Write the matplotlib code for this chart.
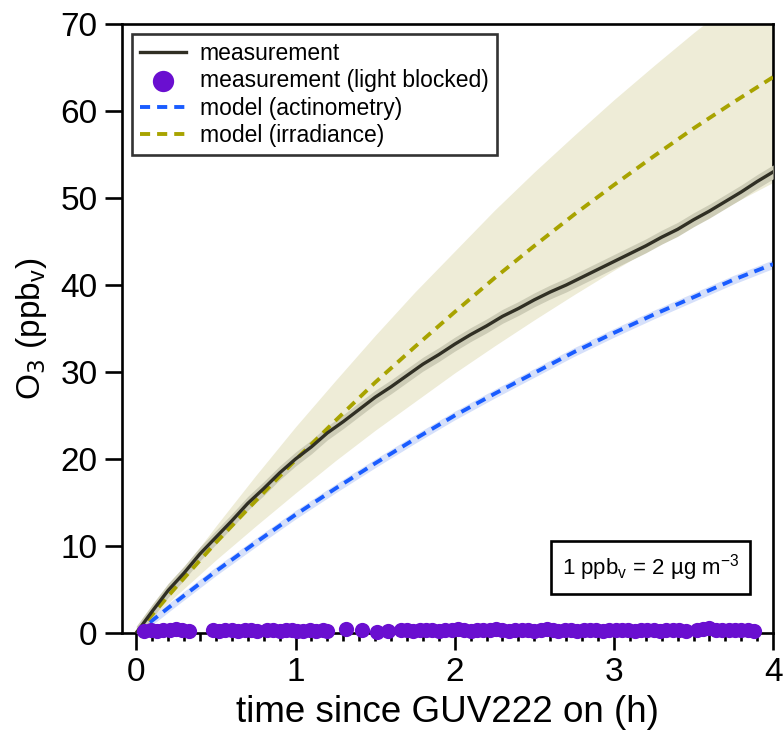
import matplotlib
matplotlib.use("Agg")
import matplotlib.pyplot as plt

plt.rcParams['font.family'] = ['Liberation Sans', 'DejaVu Sans']

# measurement (light on)
t_meas = [0.0, 0.1, 0.2, 0.3, 0.4, 0.5, 0.6, 0.7, 0.8, 0.9, 1.0,
          1.1, 1.2, 1.3, 1.4, 1.5, 1.6, 1.7, 1.8, 1.9, 2.0,
          2.1, 2.2, 2.3, 2.4, 2.5, 2.6, 2.7, 2.8, 2.9, 3.0,
          3.1, 3.2, 3.3, 3.4, 3.5, 3.6, 3.7, 3.8, 3.9, 4.0]
o3_meas = [0.0, 2.5, 4.9, 6.9, 9.1, 11.0, 12.9, 14.9, 16.6, 18.4, 20.0,
           21.4, 23.0, 24.3, 25.7, 27.1, 28.3, 29.6, 30.9, 32.0, 33.2,
           34.3, 35.3, 36.4, 37.3, 38.3, 39.2, 40.0, 40.9, 41.8, 42.7,
           43.6, 44.5, 45.5, 46.4, 47.5, 48.5, 49.6, 50.7, 51.9, 53.0]
meas_err = 0.8

# model curves
t_model = [0.0, 0.25, 0.5, 0.75, 1.0, 1.25, 1.5, 1.75, 2.0,
           2.25, 2.5, 2.75, 3.0, 3.25, 3.5, 3.75, 4.0]
o3_actino = [0.0, 3.6, 7.1, 10.4, 13.6, 16.6, 19.5, 22.3, 25.0,
             27.5, 29.9, 32.3, 34.5, 36.6, 38.6, 40.6, 42.4]
o3_irrad = [0.0, 5.3, 10.4, 15.2, 19.9, 24.4, 28.8, 32.9, 36.9,
            40.8, 44.5, 48.1, 51.5, 54.8, 58.0, 61.0, 63.9]
irrad_lo = [0.0, 4.3, 8.4, 12.3, 16.1, 19.8, 23.3, 26.6, 29.9,
            33.0, 36.0, 38.9, 41.7, 44.4, 46.9, 49.4, 51.8]
irrad_hi = [0.0, 6.3, 12.3, 18.1, 23.7, 29.0, 34.2, 39.2, 43.9,
            48.6, 53.0, 57.2, 61.3, 65.2, 69.0, 72.6, 76.0]
actino_err = 0.5

# measurement with light blocked
t_dark = [0.05, 0.09, 0.13, 0.17, 0.21, 0.25, 0.29, 0.33,
          0.48, 0.52, 0.56, 0.60, 0.64, 0.68, 0.72, 0.76,
          0.82, 0.86, 0.90, 0.94, 0.98, 1.01,
          1.05, 1.09, 1.13, 1.17, 1.20,
          1.32, 1.42, 1.51, 1.58,
          1.66, 1.70, 1.74, 1.78, 1.82, 1.86, 1.90, 1.94, 1.98, 2.02,
          2.06, 2.10, 2.14, 2.18, 2.22, 2.26, 2.30, 2.34, 2.38, 2.42,
          2.46, 2.50, 2.54, 2.58, 2.62,
          2.65, 2.69, 2.73, 2.77, 2.81, 2.85, 2.89, 2.93, 2.97, 3.01,
          3.05, 3.09, 3.13, 3.17, 3.21, 3.25, 3.29, 3.33, 3.37, 3.41, 3.45,
          3.52, 3.56, 3.60, 3.64, 3.68, 3.72, 3.76, 3.80, 3.84, 3.88]
o3_dark = [0.2, 0.3, 0.2, 0.3, 0.4, 0.5, 0.3, 0.2,
           0.3, 0.2, 0.4, 0.3, 0.2, 0.3, 0.4, 0.2,
           0.4, 0.3, 0.2, 0.4, 0.3, 0.2,
           0.2, 0.3, 0.2, 0.3, 0.2,
           0.5, 0.4, 0.1, 0.2,
           0.4, 0.3, 0.2, 0.3, 0.4, 0.3, 0.2, 0.3, 0.4, 0.5,
           0.3, 0.2, 0.3, 0.4, 0.3, 0.5, 0.3, 0.2, 0.3, 0.4,
           0.3, 0.2, 0.4, 0.5, 0.3,
           0.2, 0.3, 0.4, 0.2, 0.3, 0.4, 0.3, 0.2, 0.3, 0.4,
           0.3, 0.4, 0.2, 0.3, 0.3, 0.4, 0.2, 0.3, 0.4, 0.3, 0.2,
           0.4, 0.5, 0.6, 0.4, 0.3, 0.4, 0.3, 0.4, 0.3, 0.2]

olive = '#a8a300'
blue = '#1a5cff'
purple = '#6a0fd0'

fig = plt.figure(figsize=(7.83, 7.37), dpi=100)
ax = fig.add_axes([0.1558, 0.1411, 0.8316, 0.8263])

ax.fill_between(t_model, irrad_lo, irrad_hi, color='#eeecd7', lw=0, zorder=1)
ax.fill_between(t_model, [v - actino_err for v in o3_actino],
                [v + actino_err for v in o3_actino], color='#d6e0fa', lw=0, zorder=2)
ax.fill_between(t_meas, [v - meas_err for v in o3_meas],
                [v + meas_err for v in o3_meas], color='#cdccb6', lw=0, zorder=3)
ax.plot(t_meas, o3_meas, color='#302f24', lw=2.4, zorder=5, label='measurement')
ax.scatter(t_dark, o3_dark, s=120, color=purple, lw=0, zorder=6, clip_on=False,
           label='measurement (light blocked)')
ax.plot(t_model, o3_actino, color=blue, lw=2.8, ls=(0, (2.6, 1.8)), zorder=4,
        label='model (actinometry)')
ax.plot(t_model, o3_irrad, color=olive, lw=2.8, ls=(0, (2.6, 1.8)), zorder=4,
        label='model (irradiance)')

ax.set_xlim(-0.09, 4)
ax.set_ylim(0, 70)
ax.set_xticks([0, 1, 2, 3, 4])
ax.set_xticks([i / 10 for i in range(1, 40) if i % 10], minor=True)
ax.set_yticks(range(0, 71, 10))

for s in ax.spines.values():
    s.set_linewidth(1.9)
ax.tick_params(axis='both', which='major', direction='out', length=12.5, width=1.9,
               labelsize=24, pad=5)
ax.tick_params(axis='x', which='minor', direction='out', length=6, width=1.9)

ax.set_xlabel('time since GUV222 on (h)', fontsize=26.5, labelpad=5)
ax.set_ylabel('O$_3$ (ppb$_\\mathregular{v}$)', fontsize=24, labelpad=8)

leg = ax.legend(loc='upper left', fontsize=16.5, frameon=True, fancybox=False,
                borderaxespad=0.45, handlelength=2.0, labelspacing=0.18,
                borderpad=0.35, handletextpad=0.6, markerscale=1.4)
leg.get_frame().set_edgecolor('black')
leg.get_frame().set_linewidth(1.9)

ax.text(0.948, 0.108, '1 ppb$_\\mathregular{v}$ = 2 µg m$^\\mathregular{-3}$',
        transform=ax.transAxes, ha='right', va='center', fontsize=16,
        bbox=dict(boxstyle='square,pad=0.5', fc='white', ec='black', lw=1.9), zorder=7)

fig.savefig('out.png', dpi=100)
